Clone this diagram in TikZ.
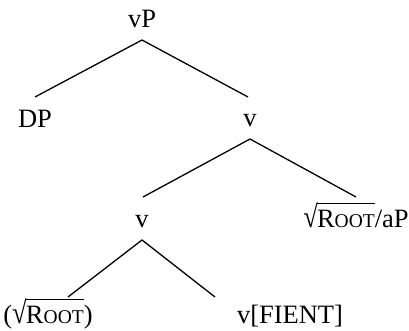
\documentclass[tikz,border=0pt]{standalone}
\usepackage{fontspec}
\usepackage{graphicx}
\setmainfont{Liberation Serif}
\newsavebox\rbox
\newsavebox\sqbox
\newcommand{\rootsc}{R{\fontsize{19.5}{20}\selectfont OOT}}
\newcommand{\sqroot}{\sbox\rbox{\rootsc}\sbox\sqbox{\raisebox{-0.03em}{\scalebox{1}[1.18]{√}}}\mbox{\usebox\sqbox\kern-0.03em\rlap{\rule[\dimexpr\ht\sqbox-0.05em\relax]{\wd\rbox}{0.05em}}\usebox\rbox}}
\begin{document}
\begin{tikzpicture}[x=1pt,y=-1pt,
  lbl/.style={anchor=base, inner sep=0pt, font=\fontsize{26.5}{30}\selectfont},
  edge/.style={line width=1.3pt}]
\useasboundingbox (0,0) rectangle (409,331);
\node[lbl] (vP) at (142,28) {vP};
\node[lbl] (DP) at (35,128) {DP};
\node[lbl] (v1) at (250,127) {v};
\node[lbl] (v2) at (142,227) {v};
\node[lbl] (aP) at (356,227) {\sqroot/aP};
\node[lbl] (root) at (48,323) {(\sqroot)};
\node[lbl] (fient) at (290,323) {v[FIENT]};
\coordinate (vPb) at (142,40);
\coordinate (DPt) at (35,97);
\coordinate (v1t) at (248,97);
\coordinate (v1b) at (250,139);
\coordinate (v2t) at (143,197);
\coordinate (aPt) at (356,197);
\coordinate (v2b) at (142,240);
\coordinate (roott) at (68,297);
\coordinate (fientt) at (215,297);
\draw[edge] (DPt) -- (vPb) -- (v1t);
\draw[edge] (v2t) -- (v1b) -- (aPt);
\draw[edge] (roott) -- (v2b) -- (fientt);
\end{tikzpicture}
\end{document}
